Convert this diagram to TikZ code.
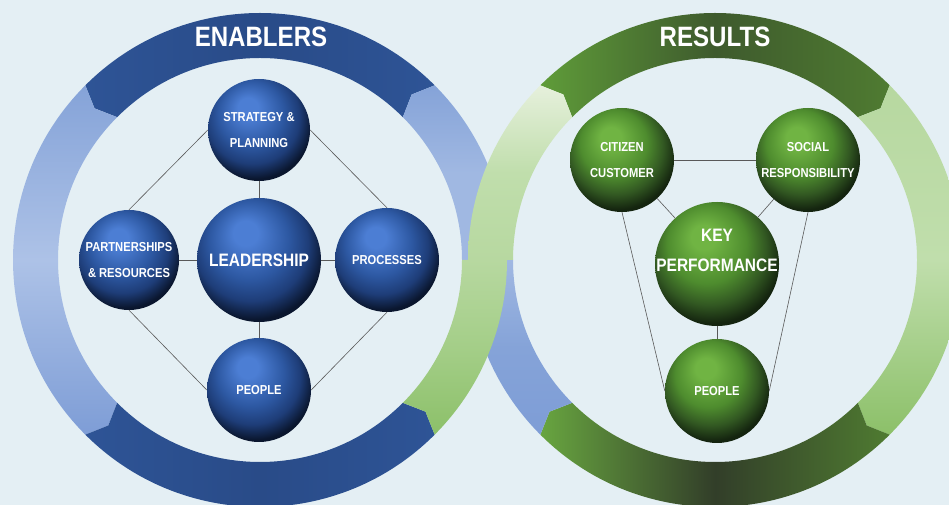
\documentclass[tikz,border=0pt]{standalone}
\usepackage{fontspec}
\setmainfont{Liberation Sans}
\newfontfamily\narrow[FakeStretch=0.86]{Liberation Sans}
\definecolor{bgc}{HTML}{E4EFF4}
% ring colours
\definecolor{bluA}{HTML}{2E5496}
\definecolor{bluB}{HTML}{294B88}
\definecolor{litA}{HTML}{85A3D8}
\definecolor{litB}{HTML}{ADC2E7}
\definecolor{litC}{HTML}{7E9DD6}
\definecolor{litD}{HTML}{A0B8E2}
\definecolor{grnA}{HTML}{5F9C39}
\definecolor{grnB}{HTML}{3E5A2D}
\definecolor{grnC}{HTML}{4F7B31}
\definecolor{grnD}{HTML}{68A540}
\definecolor{grnE}{HTML}{323E29}
\definecolor{limA}{HTML}{B7D8A0}
\definecolor{limB}{HTML}{C0DEAC}
\definecolor{limC}{HTML}{8CC069}
\definecolor{limD}{HTML}{A4CE88}
\definecolor{limE}{HTML}{E6F0DC}
% sphere colours
\definecolor{bhi}{HTML}{4C7ED4}
\definecolor{bmid}{HTML}{2D58A2}
\definecolor{blow}{HTML}{1E3D78}
\definecolor{bdk}{HTML}{0A162E}
\definecolor{ghi}{HTML}{70B443}
\definecolor{gmid}{HTML}{4E8C2E}
\definecolor{glow}{HTML}{325822}
\definecolor{gdk}{HTML}{14240F}
\pgfdeclareradialshading{bluesphere}{\pgfpoint{-6bp}{12bp}}{color(0bp)=(bhi); color(5bp)=(bhi); color(16bp)=(bmid); color(23bp)=(blow); color(29bp)=(bdk); color(50bp)=(bdk)}
\pgfdeclareradialshading{greensphere}{\pgfpoint{-6bp}{12bp}}{color(0bp)=(ghi); color(5bp)=(ghi); color(16bp)=(gmid); color(23bp)=(glow); color(29bp)=(gdk); color(50bp)=(gdk)}
\begin{document}
\begin{tikzpicture}[x=1pt, y=1pt, line join=round, line cap=round,
		bsphere/.style={circle, shade, shading=bluesphere, minimum size=#1, inner sep=0pt, align=center, text=white, font=\narrow\bfseries\fontsize{13}{26}\selectfont},
		gsphere/.style={bsphere=#1, shading=greensphere},
		ttl/.style={text=white, font=\narrow\bfseries\fontsize{28}{28}\selectfont},
		conn/.style={draw=gray!70!black, line width=0.6pt}]
	\useasboundingbox (0,0) rectangle (949,505);
	\fill[bgc] (0,0) rectangle (949,505);
	\clip (0,0) rectangle (949,505);
	\def\Ro{247}\def\Ri{202}\def\Rm{224.5}\def\tip{2.5}
	% centre x / from / to / notch / tip / left(top) / middle / right(bottom) colour / shading angle
	\foreach \cx/\a/\b/\na/\tb/\ca/\cm/\cb/\ang in {
		260/45/135/1/1/bluA/bluB/bluA/90,
		260/135/225/1/1/litA/litB/litC/0,
		260/225/315/1/1/bluA/bluB/bluA/90,
		260/0/45/0/1/litA/litD/litD/0,
		715/135/45/1/1/grnA/grnB/grnC/90,
		715/45/-45/1/1/limA/limB/limC/0,
		715/-45/-135/1/1/grnD/grnE/grnC/90,
		715/225/180/1/0/litD/litA/litC/0,
		260/315/360/1/0/limA/limD/limC/0,
		715/180/135/0/1/limE/limB/limA/0}{
		\pgfmathsetmacro{\s}{sign(\b-\a)}
		\shade[left color=\ca, right color=\cb, middle color=\cm, shading angle=\ang, shift={(\cx,245)}]
			(\a:\Ro) arc[start angle=\a, end angle=\b, radius=\Ro] -- ({\b+\tb*\s*\tip}:\Rm) -- (\b:\Ri)
			arc[start angle=\b, end angle=\a, radius=\Ri] -- ({\a+\na*\s*\tip}:\Rm) -- cycle;
	}
	\node[ttl] (enab) at (261,468) {ENABLERS};
	\node[ttl] (res) at (715,468) {RESULTS};
	% enablers
	\node[bsphere=102pt] (strat) at (259,375) {STRATEGY \&\\PLANNING};
	\node[bsphere=124pt, font=\narrow\bfseries\fontsize{18}{30}\selectfont] (lead) at (259,245) {LEADERSHIP};
	\node[bsphere=100pt] (part) at (129,245) {PARTNERSHIPS\\\& RESOURCES};
	\node[bsphere=104pt] (proc) at (387,245) {PROCESSES};
	\node[bsphere=104pt] (pplL) at (259,115) {PEOPLE};
	\draw[conn] (strat) -- (lead);
	\draw[conn] (lead) -- (pplL);
	\draw[conn] (lead) -- (part);
	\draw[conn] (lead) -- (proc);
	\draw[conn] (strat.west) -- (part.north);
	\draw[conn] (strat.east) -- (proc.north);
	\draw[conn] (part.south) -- (pplL.west);
	\draw[conn] (proc.south) -- (pplL.east);
	% results
	\node[gsphere=104pt] (citz) at (622,345) {CITIZEN\\CUSTOMER};
	\node[gsphere=104pt] (soc) at (808,345) {SOCIAL\\RESPONSIBILITY};
	\node[gsphere=124pt] (key) at (717,241) {};
	\node[text=white, align=center, font=\narrow\bfseries\fontsize{18}{30}\selectfont] (keytxt) at (717,255) {KEY\\PERFORMANCE};
	\node[gsphere=104pt] (pplR) at (717,114) {PEOPLE};
	\draw[conn] (citz) -- (soc);
	\draw[conn] (citz) -- (key);
	\draw[conn] (soc) -- (key);
	\draw[conn] (key) -- (pplR);
	\draw[conn] (citz.south) -- (pplR.west);
	\draw[conn] (soc.south) -- (pplR.east);
\end{tikzpicture}
\end{document}
